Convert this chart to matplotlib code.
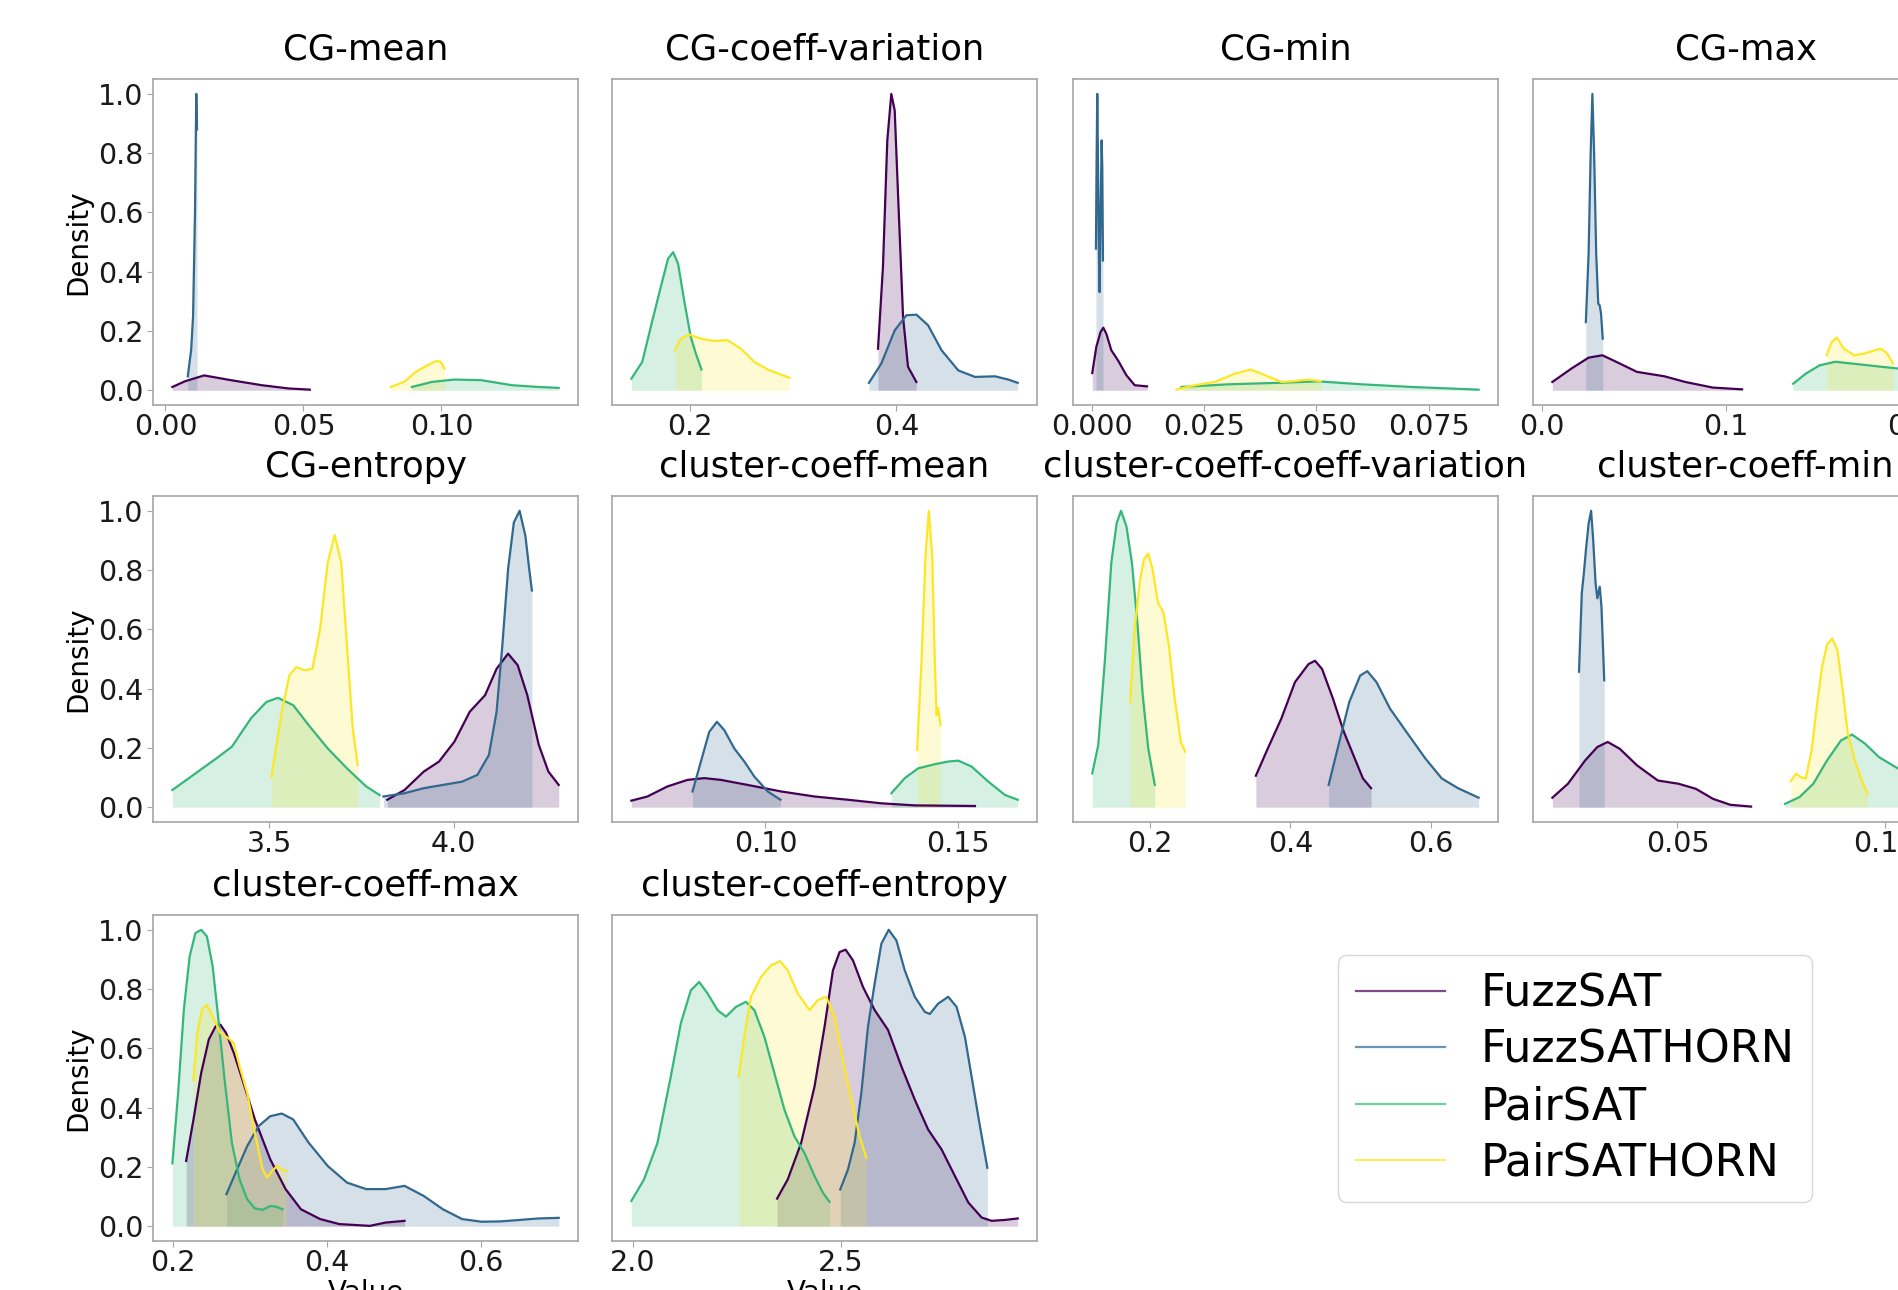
import numpy as np
import matplotlib
matplotlib.use("Agg")
import matplotlib.pyplot as plt
from matplotlib.lines import Line2D

# series names and their colours (viridis, 4 levels)
series = ["FuzzSAT", "FuzzSATHORN", "PairSAT", "PairSATHORN"]
colors = plt.cm.viridis(np.linspace(0, 1, 4))

# normalised KDE curves: name -> (x, density)
cg_mean = {
    "FuzzSAT": ([0.0025, 0.0070, 0.0140, 0.0237, 0.0349, 0.0446, 0.0523],
                [0.011, 0.030, 0.050, 0.034, 0.017, 0.006, 0.002]),
    "FuzzSATHORN": ([0.0081, 0.0088, 0.0093, 0.0100, 0.0107, 0.01116, 0.01144],
                    [0.047, 0.100, 0.135, 0.250, 0.600, 1.000, 0.880]),
    "PairSAT": ([0.0893, 0.0965, 0.1046, 0.1144, 0.1255, 0.1352, 0.1425],
                [0.011, 0.028, 0.036, 0.034, 0.017, 0.011, 0.008]),
    "PairSATHORN": ([0.0816, 0.0865, 0.0907, 0.0948, 0.0983, 0.0998, 0.1011],
                    [0.011, 0.028, 0.062, 0.084, 0.099, 0.095, 0.073]),
}
cg_coeff_variation = {
    "FuzzSAT": ([0.3822, 0.3870, 0.3912, 0.3951, 0.3984, 0.4016, 0.4065, 0.4113, 0.4194],
                [0.140, 0.416, 0.843, 1.000, 0.944, 0.663, 0.247, 0.079, 0.028]),
    "FuzzSATHORN": ([0.3734, 0.3854, 0.3984, 0.4097, 0.4195, 0.4308, 0.4438, 0.4600, 0.4762, 0.4956, 0.5086, 0.5177],
                    [0.025, 0.090, 0.202, 0.253, 0.255, 0.219, 0.135, 0.067, 0.045, 0.047, 0.036, 0.025]),
    "PairSAT": ([0.1430, 0.1536, 0.1634, 0.1731, 0.1786, 0.1835, 0.1883, 0.1942, 0.2006, 0.2055, 0.2110],
                [0.039, 0.096, 0.236, 0.370, 0.444, 0.466, 0.427, 0.303, 0.180, 0.124, 0.070]),
    "PairSATHORN": ([0.1854, 0.1909, 0.1990, 0.2104, 0.2233, 0.2363, 0.2493, 0.2622, 0.2752, 0.2963],
                    [0.135, 0.174, 0.188, 0.174, 0.166, 0.169, 0.140, 0.096, 0.070, 0.042]),
}
cg_min = {
    "FuzzSAT": ([0.00007, 0.00097, 0.00193, 0.00253, 0.0032, 0.00432, 0.0058, 0.00766, 0.00952, 0.01228],
                [0.058, 0.146, 0.197, 0.211, 0.191, 0.135, 0.101, 0.051, 0.017, 0.013]),
    "FuzzSATHORN": ([0.00089, 0.00104, 0.00119, 0.00134, 0.00156, 0.00171, 0.00193, 0.00216, 0.00231, 0.00246],
                    [0.478, 0.780, 1.000, 0.780, 0.450, 0.331, 0.600, 0.843, 0.750, 0.438]),
    "PairSAT": ([0.01994, 0.03036, 0.04152, 0.05045, 0.06012, 0.07128, 0.08616],
                [0.011, 0.020, 0.025, 0.030, 0.020, 0.011, 0.002]),
    "PairSATHORN": ([0.01882, 0.02291, 0.02738, 0.03185, 0.03534, 0.03854, 0.04226, 0.04524, 0.04821, 0.05097],
                    [0.002, 0.017, 0.028, 0.056, 0.070, 0.051, 0.028, 0.031, 0.036, 0.031]),
}
cg_max = {
    "FuzzSAT": ([0.00563, 0.01595, 0.02533, 0.03283, 0.04034, 0.0516, 0.0666, 0.07786, 0.09287, 0.10882],
                [0.028, 0.073, 0.110, 0.118, 0.096, 0.062, 0.047, 0.028, 0.009, 0.003]),
    "FuzzSATHORN": ([0.02383, 0.02533, 0.02645, 0.02739, 0.02833, 0.02946, 0.03058, 0.03133, 0.03208, 0.03302],
                    [0.230, 0.460, 0.798, 1.000, 0.800, 0.460, 0.292, 0.287, 0.260, 0.174]),
    "PairSAT": ([0.1366, 0.1435, 0.1510, 0.1595, 0.1717, 0.1848, 0.1942, 0.2011, 0.2080, 0.2158],
                [0.022, 0.056, 0.084, 0.096, 0.088, 0.079, 0.073, 0.060, 0.040, 0.025]),
    "PairSATHORN": ([0.1548, 0.1576, 0.1604, 0.1642, 0.1698, 0.1754, 0.1811, 0.1844, 0.1876, 0.1910],
                    [0.118, 0.163, 0.178, 0.140, 0.118, 0.124, 0.135, 0.140, 0.125, 0.090]),
}
cg_entropy = {
    "FuzzSAT": ([3.8202, 3.867, 3.919, 3.9605, 4.0021, 4.0437, 4.0853, 4.1164, 4.1476, 4.1736, 4.1996, 4.2308, 4.2568, 4.2848],
                [0.025, 0.058, 0.120, 0.154, 0.221, 0.322, 0.378, 0.467, 0.518, 0.479, 0.378, 0.210, 0.120, 0.075]),
    "FuzzSATHORN": ([3.8098, 3.867, 3.919, 3.9709, 4.0229, 4.0645, 4.0956, 4.1164, 4.132, 4.1476, 4.1632, 4.1788, 4.1944, 4.2048, 4.212],
                    [0.036, 0.047, 0.064, 0.075, 0.086, 0.109, 0.176, 0.322, 0.546, 0.804, 0.961, 1.000, 0.916, 0.804, 0.731]),
    "PairSAT": ([3.238, 3.2952, 3.3576, 3.3992, 3.4511, 3.4927, 3.5239, 3.5655, 3.6071, 3.659, 3.711, 3.763, 3.7994],
                [0.058, 0.109, 0.165, 0.204, 0.300, 0.355, 0.369, 0.344, 0.277, 0.198, 0.131, 0.070, 0.041]),
    "PairSATHORN": ([3.5062, 3.5343, 3.5551, 3.5738, 3.5967, 3.6175, 3.6383, 3.659, 3.6778, 3.6954, 3.711, 3.7266, 3.7401],
                    [0.100, 0.322, 0.445, 0.473, 0.462, 0.467, 0.602, 0.826, 0.918, 0.826, 0.546, 0.266, 0.142]),
}
cluster_coeff_mean = {
    "FuzzSAT": ([0.06525, 0.06941, 0.07461, 0.07981, 0.08414, 0.08847, 0.09541, 0.10407, 0.11274, 0.1214, 0.13007, 0.13873, 0.15433],
                [0.022, 0.036, 0.070, 0.092, 0.098, 0.092, 0.075, 0.053, 0.036, 0.025, 0.013, 0.006, 0.004]),
    "FuzzSATHORN": ([0.08111, 0.08328, 0.08544, 0.08743, 0.08934, 0.09194, 0.09454, 0.09714, 0.10061, 0.1039],
                    [0.053, 0.154, 0.254, 0.288, 0.260, 0.198, 0.154, 0.103, 0.053, 0.025]),
    "PairSAT": ([0.13267, 0.13614, 0.1396, 0.14393, 0.1474, 0.15, 0.15347, 0.1578, 0.16213, 0.16542],
                [0.047, 0.098, 0.131, 0.145, 0.154, 0.157, 0.137, 0.086, 0.041, 0.025]),
    "PairSATHORN": ([0.13934, 0.14047, 0.14151, 0.14237, 0.14324, 0.14393, 0.14437, 0.1448, 0.14506, 0.14541],
                    [0.193, 0.490, 0.849, 1.000, 0.849, 0.490, 0.310, 0.335, 0.310, 0.277]),
}
cluster_coeff_coeff_variation = {
    "FuzzSAT": ([0.3509, 0.3679, 0.3872, 0.4066, 0.4259, 0.4352, 0.4452, 0.4607, 0.4762, 0.4917, 0.5033, 0.5149],
                [0.106, 0.198, 0.299, 0.422, 0.483, 0.494, 0.466, 0.366, 0.254, 0.164, 0.097, 0.064]),
    "FuzzSATHORN": ([0.4545, 0.4685, 0.4839, 0.4994, 0.5095, 0.5226, 0.542, 0.5652, 0.5923, 0.6155, 0.6387, 0.668],
                    [0.075, 0.209, 0.355, 0.444, 0.459, 0.422, 0.332, 0.254, 0.164, 0.097, 0.064, 0.032]),
    "PairSAT": ([0.118, 0.1265, 0.1358, 0.1451, 0.1528, 0.159, 0.1667, 0.1745, 0.1822, 0.1899, 0.1977, 0.207],
                [0.114, 0.209, 0.489, 0.824, 0.959, 1.000, 0.947, 0.824, 0.623, 0.377, 0.198, 0.075]),
    "PairSATHORN": ([0.1721, 0.1783, 0.1861, 0.1915, 0.1977, 0.2039, 0.2116, 0.2193, 0.2271, 0.2348, 0.2441, 0.2503],
                    [0.355, 0.600, 0.768, 0.836, 0.856, 0.802, 0.690, 0.657, 0.545, 0.377, 0.220, 0.187]),
}
cluster_coeff_min = {
    "FuzzSAT": ([0.01983, 0.02358, 0.02775, 0.03067, 0.03317, 0.03608, 0.04025, 0.04525, 0.05025, 0.05442, 0.05858, 0.06275, 0.06775],
                [0.032, 0.079, 0.158, 0.203, 0.220, 0.197, 0.141, 0.090, 0.079, 0.062, 0.028, 0.008, 0.002]),
    "FuzzSATHORN": ([0.02625, 0.02692, 0.02742, 0.02792, 0.02858, 0.02917, 0.02967, 0.03025, 0.03067, 0.03125, 0.03167, 0.03233],
                    [0.457, 0.722, 0.789, 0.868, 0.958, 1.000, 0.902, 0.755, 0.705, 0.744, 0.676, 0.428]),
    "PairSAT": ([0.07592, 0.07942, 0.08275, 0.08608, 0.08942, 0.09208, 0.09525, 0.09858, 0.10192, 0.10525, 0.10667, 0.1095, 0.113],
                [0.011, 0.034, 0.079, 0.158, 0.225, 0.245, 0.214, 0.169, 0.141, 0.113, 0.095, 0.060, 0.035]),
    "PairSATHORN": ([0.07733, 0.07858, 0.07983, 0.08092, 0.08233, 0.08358, 0.08483, 0.08608, 0.08733, 0.08858, 0.08983, 0.09108, 0.09275, 0.09442, 0.09583],
                    [0.088, 0.113, 0.101, 0.096, 0.190, 0.338, 0.470, 0.550, 0.569, 0.530, 0.395, 0.248, 0.158, 0.090, 0.045]),
}
cluster_coeff_max = {
    "FuzzSAT": ([0.2169, 0.2264, 0.2364, 0.2463, 0.2553, 0.2613, 0.2687, 0.2787, 0.2912, 0.3061, 0.326, 0.346, 0.3659, 0.3908, 0.4157, 0.4555, 0.4755, 0.5004],
                [0.220, 0.360, 0.517, 0.630, 0.675, 0.680, 0.652, 0.585, 0.484, 0.360, 0.226, 0.125, 0.057, 0.024, 0.007, 0.001, 0.012, 0.018]),
    "FuzzSATHORN": ([0.2692, 0.2812, 0.2961, 0.3111, 0.326, 0.341, 0.3559, 0.3758, 0.4007, 0.4257, 0.4506, 0.4755, 0.5004, 0.5253, 0.5502, 0.5751, 0.6, 0.6249, 0.6498, 0.6747, 0.7006],
                    [0.108, 0.181, 0.270, 0.338, 0.371, 0.380, 0.360, 0.282, 0.203, 0.147, 0.125, 0.125, 0.136, 0.102, 0.057, 0.024, 0.015, 0.016, 0.021, 0.026, 0.028]),
    "PairSAT": ([0.199, 0.2065, 0.2139, 0.2214, 0.2289, 0.2364, 0.2438, 0.2513, 0.2588, 0.2663, 0.2762, 0.2862, 0.2961, 0.3061, 0.3161, 0.326, 0.3335, 0.342],
                [0.212, 0.450, 0.731, 0.910, 0.989, 1.000, 0.978, 0.877, 0.697, 0.506, 0.282, 0.158, 0.091, 0.060, 0.055, 0.068, 0.066, 0.057]),
    "PairSATHORN": ([0.2264, 0.2314, 0.2374, 0.2438, 0.2513, 0.2613, 0.2712, 0.2787, 0.2862, 0.2961, 0.3061, 0.3161, 0.322, 0.3285, 0.335, 0.341, 0.3469],
                    [0.493, 0.652, 0.731, 0.747, 0.708, 0.652, 0.635, 0.618, 0.540, 0.450, 0.315, 0.192, 0.164, 0.186, 0.203, 0.192, 0.186]),
}
cluster_coeff_entropy = {
    "FuzzSAT": ([2.347, 2.3728, 2.405, 2.4372, 2.4614, 2.4815, 2.4976, 2.5121, 2.5298, 2.554, 2.5821, 2.6143, 2.6465, 2.6787, 2.7109, 2.7432, 2.7754, 2.8076, 2.8398, 2.8639, 2.8961, 2.9267],
                [0.093, 0.158, 0.281, 0.471, 0.673, 0.863, 0.925, 0.933, 0.897, 0.807, 0.729, 0.662, 0.539, 0.427, 0.326, 0.259, 0.169, 0.080, 0.029, 0.018, 0.021, 0.026]),
    "FuzzSATHORN": ([2.4992, 2.5177, 2.5338, 2.5499, 2.566, 2.5821, 2.5982, 2.6159, 2.6345, 2.6546, 2.6787, 2.7029, 2.715, 2.7351, 2.7593, 2.7794, 2.7995, 2.8196, 2.8357, 2.8535],
                    [0.124, 0.191, 0.281, 0.449, 0.673, 0.819, 0.953, 1.000, 0.964, 0.863, 0.774, 0.723, 0.716, 0.751, 0.774, 0.740, 0.639, 0.471, 0.337, 0.197]),
    "PairSAT": ([1.996, 2.0266, 2.0588, 2.091, 2.1151, 2.1393, 2.1594, 2.1796, 2.2037, 2.2238, 2.248, 2.2721, 2.2923, 2.3164, 2.3406, 2.3647, 2.3889, 2.413, 2.4372, 2.4573, 2.4734],
                [0.085, 0.158, 0.281, 0.505, 0.684, 0.796, 0.824, 0.785, 0.729, 0.707, 0.740, 0.757, 0.729, 0.639, 0.516, 0.393, 0.303, 0.247, 0.169, 0.113, 0.082]),
    "PairSATHORN": ([2.2544, 2.2681, 2.2842, 2.3084, 2.3325, 2.3543, 2.3728, 2.3969, 2.4251, 2.4452, 2.4654, 2.4855, 2.5056, 2.5258, 2.5459, 2.562],
                    [0.505, 0.639, 0.774, 0.841, 0.880, 0.894, 0.863, 0.785, 0.729, 0.763, 0.774, 0.707, 0.561, 0.427, 0.303, 0.231]),
}

titles = ["CG-mean", "CG-coeff-variation", "CG-min", "CG-max",
          "CG-entropy", "cluster-coeff-mean", "cluster-coeff-coeff-variation", "cluster-coeff-min",
          "cluster-coeff-max", "cluster-coeff-entropy"]
panels = [cg_mean, cg_coeff_variation, cg_min, cg_max,
          cg_entropy, cluster_coeff_mean, cluster_coeff_coeff_variation, cluster_coeff_min,
          cluster_coeff_max, cluster_coeff_entropy]
xticks = [[0.0, 0.05, 0.10], [0.2, 0.4], [0.0, 0.025, 0.05, 0.075], [0.0, 0.1, 0.2],
          [3.5, 4.0], [0.10, 0.15], [0.2, 0.4, 0.6], [0.05, 0.10],
          [0.2, 0.4, 0.6], [2.0, 2.5]]
yticks = [0.0, 0.2, 0.4, 0.6, 0.8, 1.0]

fig = plt.figure(figsize=(18.99, 12.90), dpi=100)
lefts = [0.0806, 0.3223, 0.5650, 0.8073]   # 4th column runs off the right edge
bottoms = [0.6860, 0.3628, 0.0380]
w, h = 0.2238, 0.2527
spine_col = "#a6a6a6"

for i, (title, curves) in enumerate(zip(titles, panels)):
    r, c = divmod(i, 4)
    ax = fig.add_axes([lefts[c], bottoms[r], w, h])
    for name, col in zip(series, colors):
        x, y = curves[name]
        ax.fill_between(x, y, color=col, alpha=0.2, linewidth=0)
        ax.plot(x, y, color=col, lw=1.6)
    ax.set_title(title, fontsize=25.5, pad=14)
    ax.set_xticks(xticks[i])
    if c == 0:
        ax.set_yticks(yticks)
        ax.set_ylabel("Density", fontsize=20)
    else:
        ax.set_yticks([])
    if r == 2:
        ax.set_xlabel("Value", fontsize=20, labelpad=2)
    for sp in ax.spines.values():
        sp.set_color(spine_col)
        sp.set_linewidth(1.2)
    ax.tick_params(color=spine_col, labelcolor="#1a1a1a", labelsize=20.5, length=4)
    ax.tick_params(axis="x", pad=1.5)
    ax.tick_params(axis="y", pad=3)

handles = [Line2D([], [], color=col, lw=1.6, alpha=0.7) for col in colors]
fig.legend(handles, series, loc="center", bbox_to_anchor=(0.8294, 0.164),
           fontsize=32, labelspacing=0.3)

fig.savefig("out.png", dpi=100)
